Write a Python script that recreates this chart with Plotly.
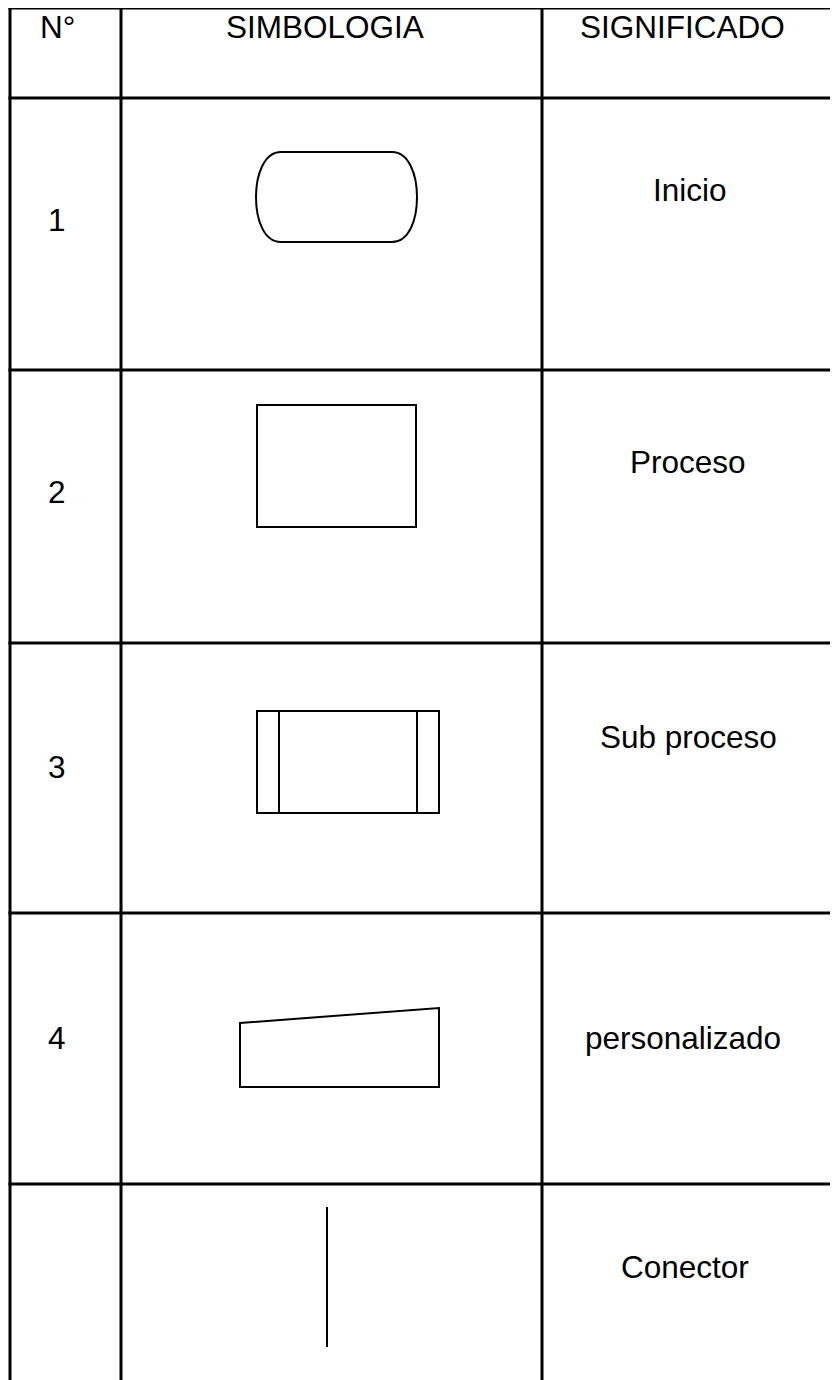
import plotly.graph_objects as go

# ---- data ----
headers = ["N°", "SIMBOLOGIA", "SIGNIFICADO"]
numbers = ["1", "2", "3", "4", ""]
meanings = ["Inicio", "Proceso", "Sub proceso", "personalizado", "Conector"]
symbols = ["terminal", "process", "subprocess", "manual_input", "connector"]

W, H = 838, 1380
OFF = 8  # page body margin
col_x = [10, 121, 542]          # vertical table lines
row_y = [8, 98, 370, 643, 913, 1184]  # horizontal table lines
header_y = 27
header_x = [57, 325, 682]
num_x = 57
num_y = [220, 492, 767, 1038, 1267]
mean_x = [690, 688, 688, 683, 685]
mean_y = [190, 462, 737, 1038, 1267]

FONT = "Liberation Sans, Arial, sans-serif"
fig = go.Figure()
shapes = []
LW_T = 3
for x in col_x:
    shapes.append(dict(type="line", x0=x, x1=x, y0=row_y[0] - 1.5, y1=H + 5,
                       line=dict(color="black", width=LW_T)))
for y in row_y:
    shapes.append(dict(type="line", x0=col_x[0] - 1.5, x1=W + 5, y0=y, y1=y,
                       line=dict(color="black", width=LW_T)))

LW = 2
def sym_shapes(kind):
    out = []
    if kind == "terminal":
        path = ("M 281 152 L 392 152 C 409 152 417 175 417 197 C 417 220 409 242 392 242 "
                "L 281 242 C 264 242 256 220 256 197 C 256 175 264 152 281 152 Z")
        out.append(dict(type="path", path=path, line=dict(color="black", width=LW)))
    elif kind == "process":
        out.append(dict(type="rect", x0=257, x1=416, y0=405, y1=527,
                        line=dict(color="black", width=LW)))
    elif kind == "subprocess":
        out.append(dict(type="rect", x0=257, x1=439, y0=711, y1=813,
                        line=dict(color="black", width=LW)))
        for x in (279, 417):
            out.append(dict(type="line", x0=x, x1=x, y0=711, y1=813,
                            line=dict(color="black", width=LW)))
    elif kind == "manual_input":
        path = "M 240 1023 L 439 1008 L 439 1087 L 240 1087 Z"
        out.append(dict(type="path", path=path, line=dict(color="black", width=LW)))
    elif kind == "connector":
        out.append(dict(type="line", x0=327, x1=327, y0=1207, y1=1347,
                        line=dict(color="black", width=LW)))
    return out

for s in symbols:
    shapes += sym_shapes(s)

annotations = []
for txt, x in zip(headers, header_x):
    annotations.append(dict(x=x, y=header_y, text=txt))
for txt, y in zip(numbers, num_y):
    if txt:
        annotations.append(dict(x=num_x, y=y, text=txt))
for txt, x, y in zip(meanings, mean_x, mean_y):
    annotations.append(dict(x=x, y=y, text=txt))
for a in annotations:
    a.update(xref="x", yref="y", showarrow=False, xanchor="center", yanchor="middle",
             font=dict(family=FONT, size=31.5, color="black"))

fig.update_layout(
    width=W - OFF, height=H - OFF, margin=dict(l=0, r=0, t=0, b=0),
    paper_bgcolor="white", plot_bgcolor="white",
    xaxis=dict(range=[OFF, W], visible=False, fixedrange=True),
    yaxis=dict(range=[H, OFF], visible=False, fixedrange=True),
    shapes=shapes, annotations=annotations, showlegend=False,
)
fig.write_html("out.html", config={"displayModeBar": False})
